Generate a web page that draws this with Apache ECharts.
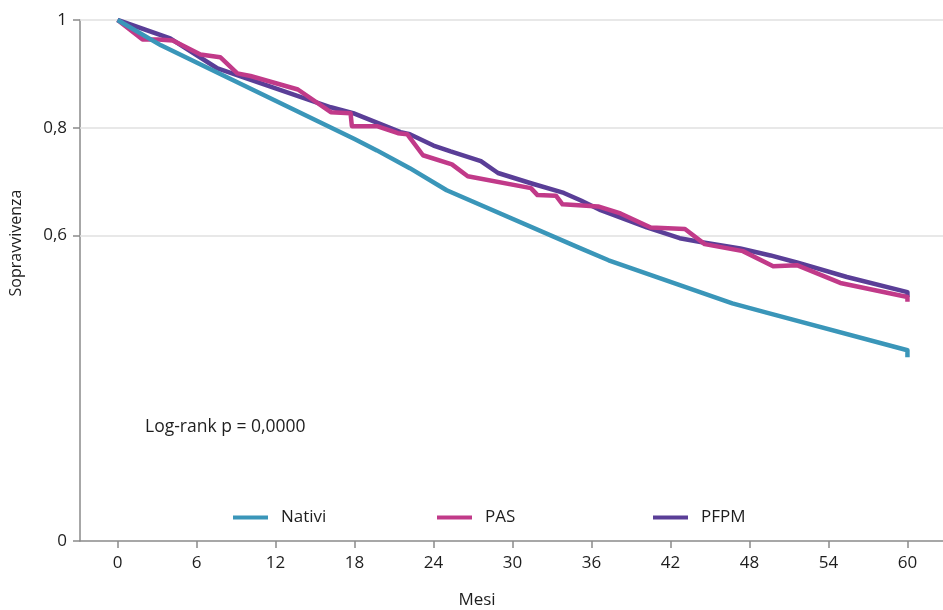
<!DOCTYPE html>
<html>
<head>
<meta charset="utf-8">
<script src="https://cdn.jsdelivr.net/npm/echarts@6/dist/echarts.min.js"></script>
<style>html,body{margin:0;padding:0;background:#fff;}#c{width:943px;height:610px;}</style>
</head>
<body>
<div id="c"></div>
<script>
// ---- data ----
const seriesNames = ['Nativi', 'PAS', 'PFPM'];
const nativiMonths = [0, 3.3, 6, 12, 18, 19.7, 22.2, 25, 35, 37.3, 46.7, 49.3, 60, 60];
const nativiSurv   = [1, 0.953, 0.921, 0.850, 0.779, 0.758, 0.725, 0.684, 0.578, 0.554, 0.474, 0.457, 0.387, 0.374];
const pasMonths = [0, 1.9, 3.1, 4.2, 6.3, 7.8, 9.1, 10.1, 13.7, 16.2, 17.7, 17.8, 19.7, 21.3, 22.0, 23.2, 25.4, 26.6, 31.4, 31.9, 33.3, 33.8, 36.5, 38.2, 40.5, 43.1, 44.6, 47.5, 49.8, 51.6, 54.9, 60, 60];
const pasSurv   = [1, 0.964, 0.964, 0.962, 0.936, 0.931, 0.901, 0.896, 0.871, 0.829, 0.827, 0.803, 0.803, 0.790, 0.788, 0.749, 0.732, 0.710, 0.688, 0.675, 0.674, 0.658, 0.654, 0.641, 0.615, 0.612, 0.584, 0.571, 0.543, 0.545, 0.512, 0.486, 0.477];
const pfpmMonths = [0, 4.0, 7.6, 9.3, 16.2, 17.9, 21.5, 22.2, 24.0, 25.3, 27.6, 28.9, 31.4, 33.9, 35.2, 36.7, 40.2, 42.7, 44.5, 47.3, 49.6, 51.6, 55.4, 60, 60];
const pfpmSurv   = [1, 0.966, 0.910, 0.896, 0.838, 0.827, 0.792, 0.788, 0.767, 0.756, 0.738, 0.716, 0.697, 0.679, 0.665, 0.647, 0.615, 0.595, 0.587, 0.576, 0.563, 0.550, 0.523, 0.495, 0.486];
const xTicks = [0, 6, 12, 18, 24, 30, 36, 42, 48, 54, 60];
const yAxisBottom = 0.033;           // axis bottom, labelled "0" in the original
const yTicks = [yAxisBottom, 0.6, 0.8, 1];
const yTickLabels = ['0', '0,6', '0,8', '1'];
const gridValues = [0.6, 0.8, 1];
const annotation = 'Log-rank p = 0,0000';

// ---- chart ----
const colors = {Nativi: '#3a96b9', PAS: '#c13a89', PFPM: '#5a3e97'};
const zip = (a, b) => a.map((v, i) => [v, b[i]]);
const FONT = 'Open Sans';
const FS = 17;
const TXT = '#1e1e1e';
const axisColor = '#8a8a8a';

const chart = echarts.init(document.getElementById('c'), null, {renderer: 'canvas'});
const mkSeries = (name, xs, ys, z) => ({
  name, type: 'line', data: zip(xs, ys), showSymbol: false, symbol: 'none',
  lineStyle: {width: 4.5, color: colors[name], join: 'round'}, itemStyle: {color: colors[name]},
  z, animation: false
});
const sNativi = mkSeries('Nativi', nativiMonths, nativiSurv, 5);
const sPAS = mkSeries('PAS', pasMonths, pasSurv, 4);
const sPFPM = mkSeries('PFPM', pfpmMonths, pfpmSurv, 3);
sPFPM.markLine = {
  silent: true, symbol: ['none', 'none'], label: {show: false},
  lineStyle: {color: '#e0e0e0', width: 1.5, type: 'solid'},
  data: gridValues.map(v => ({yAxis: v})), z: 1, animation: false
};

const legendPos = [228, 432, 648];
chart.setOption({
  animation: false,
  textStyle: {fontFamily: FONT},
  grid: {left: 80, top: 20, right: 0, bottom: 69, containLabel: false},
  legend: seriesNames.map((n, i) => ({
    data: [n], left: legendPos[i], top: 504, icon: 'rect', itemWidth: 35, itemHeight: 4,
    itemGap: 0, textStyle: {fontFamily: FONT, fontSize: FS, color: TXT, padding: [0, 0, 0, 8]},
    selectedMode: false
  })),
  xAxis: {
    type: 'value', min: -2.85, max: 62.7,
    axisLine: {show: true, onZero: false, lineStyle: {color: axisColor, width: 1.5}},
    axisTick: {show: true, length: 7, inside: false, customValues: xTicks, lineStyle: {color: axisColor, width: 1.5}},
    axisLabel: {customValues: xTicks, margin: 14, fontSize: FS, color: TXT, fontFamily: FONT},
    splitLine: {show: false}
  },
  yAxis: {
    type: 'value', min: yAxisBottom, max: 1,
    axisLine: {show: true, onZero: false, lineStyle: {color: axisColor, width: 1.5}},
    axisTick: {show: true, length: 7, customValues: yTicks, lineStyle: {color: axisColor, width: 1.5}},
    axisLabel: {
      customValues: yTicks, margin: 13, fontSize: FS, color: TXT, fontFamily: FONT,
      formatter: v => { const i = yTicks.findIndex(t => Math.abs(t - v) < 1e-6); return i >= 0 ? yTickLabels[i] : ''; }
    },
    splitLine: {show: false}
  },
  series: [sNativi, sPAS, sPFPM],
  graphic: [
    {type: 'text', x: 145, y: 427, style: {text: annotation, font: '17.5px "' + FONT + '"', fill: TXT, align: 'left', verticalAlign: 'middle'}},
    {type: 'text', x: 16, y: 243, rotation: Math.PI / 2,
     style: {text: 'Sopravvivenza', font: '16px "' + FONT + '"', fill: TXT, align: 'center', verticalAlign: 'middle'}},
    {type: 'text', x: 477, y: 600,
     style: {text: 'Mesi', font: FS + 'px "' + FONT + '"', fill: TXT, align: 'center', verticalAlign: 'middle'}}
  ]
});
</script>
</body>
</html>
